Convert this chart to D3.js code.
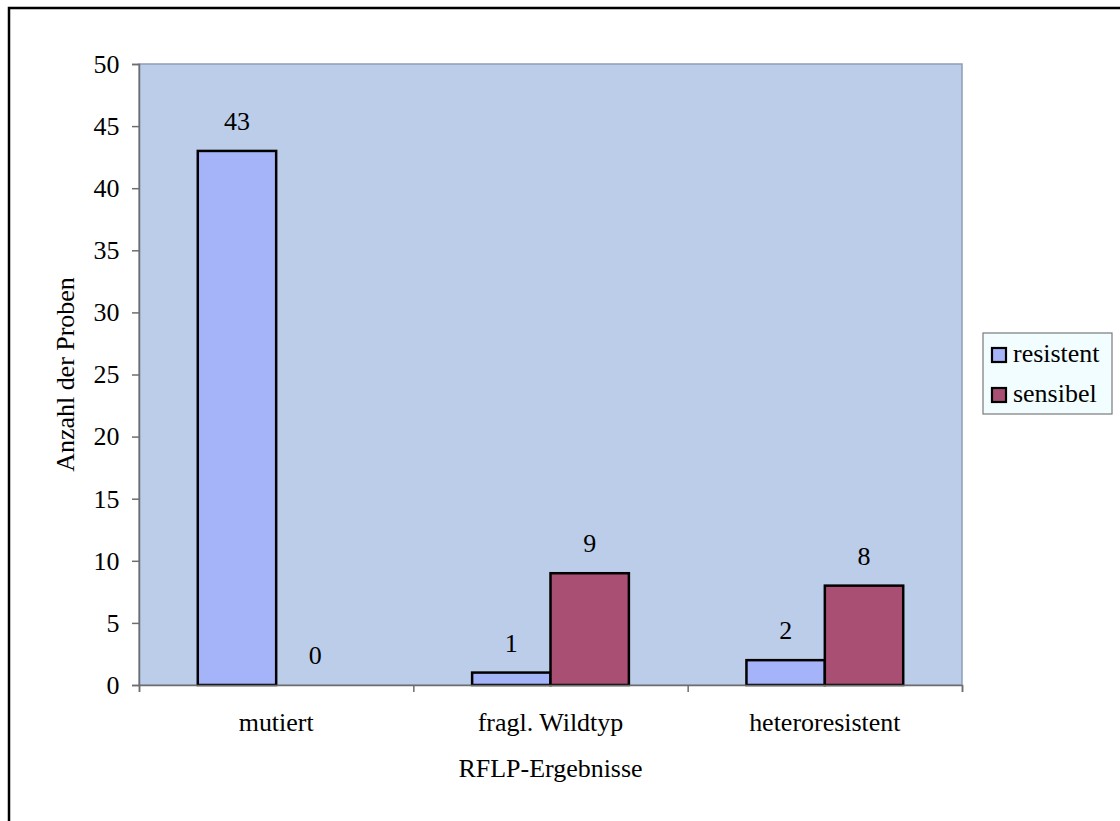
<!DOCTYPE html>
<html>
<head>
<meta charset="utf-8">
<script src="https://cdn.jsdelivr.net/npm/d3@7"></script>
<style>
  html, body { margin: 0; padding: 0; background: #ffffff; }
  svg { display: block; }
  text { font-family: "Liberation Serif", "Times New Roman", serif; fill: #000; }
</style>
</head>
<body>
<svg id="chart" width="1120" height="821"></svg>
<script>
// RFLP results: number of samples per category, split by phenotype
const categories = ["mutiert", "fragl. Wildtyp", "heteroresistent"];
const seriesNames = ["resistent", "sensibel"];
const resistent = [43, 1, 2];
const sensibel = [0, 9, 8];
const yTicks = [0, 5, 10, 15, 20, 25, 30, 35, 40, 45, 50];
const xTitle = "RFLP-Ergebnisse";
const yTitle = "Anzahl der Proben";

const colors = { resistent: "#a5b4f9", sensibel: "#a94f74" };
const FONT = 24.5;
const STRETCH = 1.06; // glyphs are drawn slightly wide

const svg = d3.select("#chart");

// outer frame
svg.append("rect")
  .attr("x", 9).attr("y", 8).attr("width", 1200).attr("height", 900)
  .attr("fill", "none").attr("stroke", "#000").attr("stroke-width", 2.5);

const plot = { left: 139, right: 962, top: 64, bottom: 685 };

const y = d3.scaleLinear().domain([0, 50]).range([plot.bottom, plot.top]);
const x0 = d3.scaleBand().domain(categories).range([plot.left, plot.right]).padding(0);
const x1 = d3.scaleBand().domain(seriesNames).range([0, x0.bandwidth()])
  .paddingInner(0).paddingOuter(0.75);

// plot area
svg.append("rect")
  .attr("x", plot.left).attr("y", plot.top)
  .attr("width", plot.right - plot.left).attr("height", plot.bottom - plot.top)
  .attr("fill", "#bccdea").attr("stroke", "#8f9db5").attr("stroke-width", 1.5);

function label(g, str, x, yy, anchor, rot) {
  return g.append("text")
    .attr("transform", `translate(${x},${yy})${rot ? ` rotate(${rot})` : ""} scale(${STRETCH},1)`)
    .attr("text-anchor", anchor)
    .style("font-size", FONT + "px")
    .text(str);
}

// bars
const rows = categories.map((c, i) => ({ cat: c, values: [
  { key: "resistent", value: resistent[i] },
  { key: "sensibel", value: sensibel[i] }
]}));

const groups = svg.append("g").selectAll("g").data(rows).join("g")
  .attr("transform", d => `translate(${x0(d.cat)},0)`);

groups.selectAll("rect").data(d => d.values).join("rect")
  .attr("x", d => x1(d.key))
  .attr("y", d => y(d.value))
  .attr("width", x1.bandwidth())
  .attr("height", d => y(0) - y(d.value))
  .attr("fill", d => colors[d.key])
  .attr("stroke", "#000").attr("stroke-width", d => d.value > 0 ? 2.5 : 0);

groups.each(function (d) {
  const g = d3.select(this);
  d.values.forEach(v => {
    label(g, String(v.value), x1(v.key) + x1.bandwidth() / 2, y(v.value) - 21, "middle");
  });
});

// y axis
const yAxis = svg.append("g")
  .attr("transform", `translate(${plot.left},0)`)
  .call(d3.axisLeft(y).tickValues(yTicks).tickSize(7).tickPadding(11.5).tickFormat(d3.format("d")));
yAxis.select(".domain").attr("stroke", "#6e6e6e").attr("stroke-width", 1.5);
yAxis.selectAll(".tick line").attr("stroke", "#6e6e6e").attr("stroke-width", 1.5);
yAxis.selectAll(".tick text")
  .attr("font-family", null).attr("fill", "#000")
  .style("font-size", FONT + "px")
  .attr("dy", "0.34em")
  .attr("transform", `scale(${STRETCH},1)`);

// x axis: boundary ticks between categories
const xb = d3.scaleLinear().domain([0, categories.length]).range([plot.left, plot.right]);
const xAxis = svg.append("g")
  .attr("transform", `translate(0,${plot.bottom})`)
  .call(d3.axisBottom(xb).tickValues(d3.range(categories.length + 1)).tickSize(7).tickFormat(""));
xAxis.select(".domain").attr("stroke", "#6e6e6e").attr("stroke-width", 1.5);
xAxis.selectAll(".tick line").attr("stroke", "#6e6e6e").attr("stroke-width", 1.5);

// category labels
categories.forEach(c => label(svg, c, x0(c) + x0.bandwidth() / 2, 731, "middle"));

// axis titles
label(svg, xTitle, (plot.left + plot.right) / 2, 777, "middle");
label(svg, yTitle, 74, (plot.top + plot.bottom) / 2, "middle", -90);

// legend
const legend = svg.append("g");
legend.append("rect")
  .attr("x", 983).attr("y", 333).attr("width", 129).attr("height", 81)
  .attr("fill", "#f1fdff").attr("stroke", "#7a7a7a").attr("stroke-width", 1.2);
seriesNames.forEach((s, i) => {
  const yy = 348 + i * 40;
  legend.append("rect")
    .attr("x", 992).attr("y", yy).attr("width", 14).attr("height", 14)
    .attr("fill", colors[s]).attr("stroke", "#000").attr("stroke-width", 2.2);
  label(legend, s, 1013, yy + 14, "start");
});
</script>
</body>
</html>
